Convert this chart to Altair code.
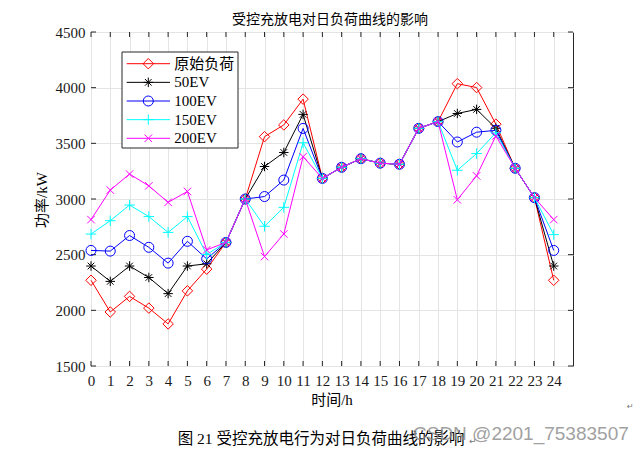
import altair as alt
import pandas as pd

hours = list(range(25))
y_ticks = [1500, 2000, 2500, 3000, 3500, 4000, 4500]
names = ["原始负荷", "50EV", "100EV", "150EV", "200EV"]
colors = ["#ff0000", "#000000", "#0000ff", "#00ffff", "#ff00ff"]

load_orig = [2270, 1985, 2125, 2020, 1878, 2175, 2370, 2610, 3000, 3560, 3665, 3897,
             3185, 3285, 3362, 3322, 3312, 3635, 3695, 4036, 4001, 3672, 3276, 3012, 2270]
load_50 = [2398, 2260, 2398, 2295, 2150, 2398, 2418, 2610, 3000, 3292, 3418, 3760,
           3185, 3285, 3362, 3322, 3312, 3635, 3695, 3768, 3805, 3635, 3276, 3012, 2398]
load_100 = [2538, 2532, 2672, 2566, 2424, 2620, 2462, 2610, 3000, 3022, 3170, 3634,
            3185, 3285, 3362, 3322, 3312, 3635, 3695, 3512, 3600, 3617, 3276, 3012, 2538]
load_150 = [2685, 2805, 2946, 2842, 2700, 2842, 2502, 2610, 3000, 2755, 2925, 3505,
            3185, 3285, 3362, 3322, 3312, 3635, 3695, 3258, 3408, 3595, 3276, 3012, 2680]
load_200 = [2815, 3080, 3224, 3118, 2970, 3068, 2543, 2610, 3000, 2483, 2686, 3380,
            3185, 3285, 3362, 3322, 3312, 3635, 3695, 2993, 3208, 3566, 3276, 3012, 2815]
series = [load_orig, load_50, load_100, load_150, load_200]

shape_paths = [
    "diamond",
    "M-1,0L1,0M0,-1L0,1M-0.7,-0.7L0.7,0.7M-0.7,0.7L0.7,-0.7",
    "circle",
    "M-1,0L1,0M0,-1L0,1",
    "M-0.75,-0.75L0.75,0.75M-0.75,0.75L0.75,-0.75",
]
marker_sizes = [110, 90, 100, 110, 100]

SERIF = "Liberation Serif, Noto Sans CJK SC"
CJK = "Noto Sans CJK SC"

rows = []
for n, vals in zip(names, series):
    for h, v in zip(hours, vals):
        rows.append({"hour": h, "load": v, "series": n})
df = pd.DataFrame(rows)

X = alt.X("hour:Q", scale=alt.Scale(domain=[0, 25], nice=False, zero=False),
          axis=alt.Axis(values=hours, title=None, format="d"))
Y = alt.Y("load:Q", scale=alt.Scale(domain=[1500, 4500], nice=False, zero=False),
          axis=alt.Axis(values=y_ticks, title=None, format="d"))

xt_df = pd.DataFrame({"hour": hours})
yt_df = pd.DataFrame({"load": y_ticks})
one = pd.DataFrame({"k": [0]})

W, H = 482, 334

tick_b = alt.Chart(xt_df).mark_rule(color="#262626", strokeWidth=1).encode(
    x=X, y=alt.value(H), y2=alt.value(H - 5))
tick_t = alt.Chart(xt_df).mark_rule(color="#262626", strokeWidth=1).encode(
    x=X, y=alt.value(0), y2=alt.value(5))
tick_l = alt.Chart(yt_df).mark_rule(color="#262626", strokeWidth=1).encode(
    y=Y, x=alt.value(0), x2=alt.value(5))
tick_r = alt.Chart(yt_df).mark_rule(color="#262626", strokeWidth=1).encode(
    y=Y, x=alt.value(W), x2=alt.value(W - 5))

line_layers = []
for n, c, sp, sz in zip(names, colors, shape_paths, marker_sizes):
    sub = df[df["series"] == n]
    line_layers.append(
        alt.Chart(sub).mark_line(color=c, strokeWidth=1).encode(x=X, y=Y)
    )
    line_layers.append(
        alt.Chart(sub).mark_point(shape=sp, filled=False, color=c, size=sz,
                                  strokeWidth=1, opacity=1).encode(x=X, y=Y)
    )

main = alt.layer(tick_b, tick_t, tick_l, tick_r, *line_layers)

# legend
leg_df = pd.DataFrame({"series": names, "size": marker_sizes})
leg_y = alt.Y("series:N", sort=names,
              scale=alt.Scale(type="point", domain=names, range=[31.7, 106.3], padding=0),
              axis=None)
col = alt.Color("series:N", scale=alt.Scale(domain=names, range=colors), legend=None)
shp = alt.Shape("series:N", scale=alt.Scale(domain=names, range=shape_paths), legend=None)

leg_box = alt.Chart(one).mark_rect(fill="white", stroke="#262626", strokeWidth=1).encode(
    x=alt.value(31), x2=alt.value(147), y=alt.value(20), y2=alt.value(116))
leg_lines = alt.Chart(leg_df).mark_rule(strokeWidth=1).encode(
    x=alt.value(35.7), x2=alt.value(79), y=leg_y, color=col)
leg_pts = alt.Chart(leg_df).mark_point(filled=False, strokeWidth=1, opacity=1).encode(
    x=alt.value(57.3), y=leg_y, color=col, shape=shp,
    size=alt.Size("size:Q", scale=None, legend=None))
leg_text = alt.Chart(leg_df).mark_text(align="left", baseline="middle", font=SERIF,
                                       fontSize=15, color="#000000").encode(
    x=alt.value(83.3), y=leg_y, text="series:N")
legend = alt.layer(leg_box, leg_lines, leg_pts, leg_text)

# texts
title = alt.Chart(one).mark_text(text="受控充放电对日负荷曲线的影响", font=CJK, fontSize=14,
                                 baseline="middle", align="center", color="#000000").encode(
    x=alt.value(239), y=alt.value(-12))
ytitle = alt.Chart(one).mark_text(text="功率/kW", font=SERIF, fontSize=15, angle=270,
                                  baseline="middle", align="center", color="#000000").encode(
    x=alt.value(-49.5), y=alt.value(168))
xtitle = alt.Chart(one).mark_text(text="时间/h", font=SERIF, fontSize=15,
                                  baseline="middle", align="center", color="#000000").encode(
    x=alt.value(241), y=alt.value(368))
caption = alt.Chart(one).mark_text(text="图 21 受控充放电行为对日负荷曲线的影响", font=SERIF,
                                   fontSize=15.5, baseline="middle", align="center",
                                   color="#000000").encode(
    x=alt.value(230), y=alt.value(407))
ret1 = alt.Chart(one).mark_text(text="↵", font="DejaVu Sans", fontSize=9,
                                baseline="middle", align="left", color="#777777").encode(
    x=alt.value(378), y=alt.value(409))
ret2 = alt.Chart(one).mark_text(text="↵", font="DejaVu Sans", fontSize=8,
                                baseline="middle", align="left", color="#777777").encode(
    x=alt.value(536), y=alt.value(375))
watermark = alt.Chart(one).mark_text(text="CSDN @2201_75383507", font="Liberation Sans",
                                     fontSize=19, baseline="middle", align="left",
                                     color="#8a8a8a", opacity=0.8).encode(
    x=alt.value(322), y=alt.value(402))
texts = alt.layer(title, ytitle, xtitle, caption, ret1, ret2, watermark)

chart = alt.layer(main, legend, texts).resolve_scale(y="independent").properties(
    width=W, height=H,
    autosize=alt.AutoSizeParams(type="none"),
    padding={"left": 83, "top": 24, "right": 60, "bottom": 84},
    background="white",
).configure_view(
    stroke="#262626", strokeWidth=1
).configure_axis(
    grid=True, gridColor="#e4e4e4", gridWidth=1, domain=False, ticks=False,
    labelFont="Liberation Serif", labelFontSize=15, labelColor="#1a1a1a",
    labelFlush=False, labelOverlap=False, labelBound=False,
).configure_axisX(labelPadding=7).configure_axisY(labelPadding=6)

chart.save("out.html", embed_options={"renderer": "svg", "actions": False})
